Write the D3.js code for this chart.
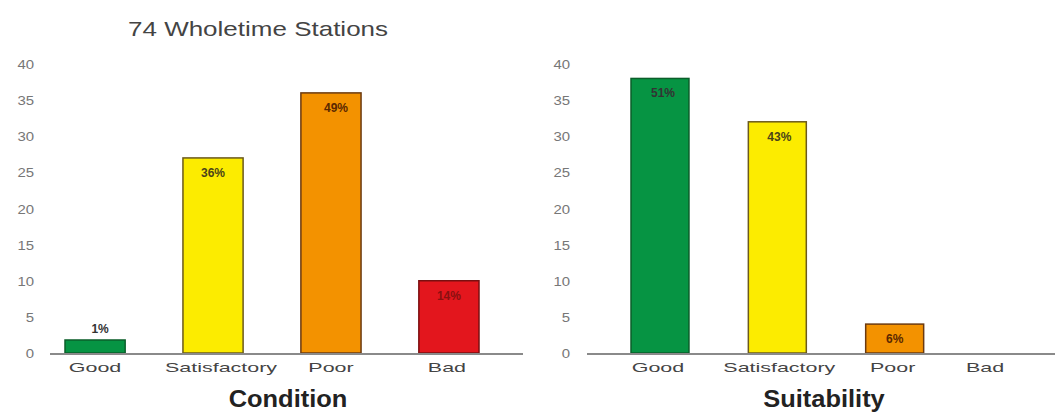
<!DOCTYPE html>
<html>
<head>
<meta charset="utf-8">
<script src="https://cdn.jsdelivr.net/npm/d3@7"></script>
<style>
  body { margin: 0; background: #fff; }
  text { font-family: "Liberation Sans", Arial, sans-serif; }
</style>
</head>
<body>
<div id="vis"></div>
<script>
// data
const categories = ["Good", "Satisfactory", "Poor", "Bad"]
const conditionValues = [1.8, 27, 36, 10]
const conditionLabels = ["1%", "36%", "49%", "14%"]
const suitabilityValues = [38, 32, 4, 0]
const suitabilityLabels = ["51%", "43%", "6%", ""]
const yTicks = [0, 5, 10, 15, 20, 25, 30, 35, 40]

const barColors = ["#069443", "#fcec00", "#f39200", "#e3161d"]
const barStrokes = ["#0b5e2a", "#6b5a1c", "#6b3a10", "#7a0f10"]
const labelColors = ["#333", "#4a4418", "#5a2800", "#8a1010"]

const width = 1055, height = 412

const svg = d3.select("#vis").append("svg")
    .attr("width", width)
    .attr("height", height)

// the original texts are all drawn horizontally stretched
svg.append("text")
    .attr("transform", "translate(128,36) scale(1.3,1)")
    .attr("font-size", 20)
    .attr("fill", "#444")
    .text("74 Wholetime Stations")

const y = d3.scaleLinear().domain([0, 40]).range([353, 64])

function drawChart(opts){
    const g = svg.append("g")

    const x = d3.scaleBand()
        .domain(categories)
        .range(opts.xRange)
        .paddingInner(opts.pad)
        .paddingOuter(0)

    // y tick labels, no axis line
    g.selectAll(".ytick")
        .data(yTicks)
        .enter().append("text")
        .attr("transform", d => `translate(${opts.tickX},${y(d) + 5}) scale(1.15,1)`)
        .attr("text-anchor", "end")
        .attr("font-size", 13)
        .attr("fill", "#777")
        .text(d => d)

    g.selectAll("rect")
        .data(opts.values)
        .enter().append("rect")
        .attr("x", (d, i) => x(categories[i]))
        .attr("y", d => y(d))
        .attr("width", x.bandwidth())
        .attr("height", d => y(0) - y(d))
        .attr("fill", (d, i) => barColors[i])
        .attr("stroke", (d, i) => barStrokes[i])
        .attr("stroke-width", 1.5)
        .style("display", d => d > 0 ? null : "none")

    g.append("line")
        .attr("x1", opts.baseline[0]).attr("x2", opts.baseline[1])
        .attr("y1", y(0) + 1).attr("y2", y(0) + 1)
        .attr("stroke", "#8a8a8a")
        .attr("stroke-width", 2)

    // percent labels
    g.selectAll(".pct")
        .data(opts.labels)
        .enter().append("text")
        .attr("x", (d, i) => x(categories[i]) + x.bandwidth() / 2 + (opts.labelDx[i] || 0))
        .attr("y", (d, i) => i == 0 && opts.above ? y(opts.values[i]) - 7 : y(opts.values[i]) + 19)
        .attr("text-anchor", "middle")
        .attr("font-size", 12)
        .attr("font-weight", "bold")
        .attr("fill", (d, i) => labelColors[i])
        .text(d => d)

    // category labels
    g.selectAll(".cat")
        .data(categories)
        .enter().append("text")
        .attr("transform", (d, i) => `translate(${x(d) + x.bandwidth() / 2 + (opts.catDx[i] || 0)},${y(0) + 19}) scale(1.65,1)`)
        .attr("text-anchor", "middle")
        .attr("font-size", 13)
        .attr("fill", "#444")
        .text(d => d)

    g.append("text")
        .attr("transform", `translate(${opts.titleX},407) scale(1.06,1)`)
        .attr("text-anchor", "middle")
        .attr("font-size", 24)
        .attr("font-weight", "bold")
        .attr("fill", "#222")
        .text(opts.title)
}

drawChart({
    values: conditionValues,
    labels: conditionLabels,
    title: "Condition",
    titleX: 288,
    xRange: [65, 479],
    pad: 0.49,
    tickX: 34,
    baseline: [50, 523],
    labelDx: [5, 0, 5, 0],
    catDx: [0, 8, 0, -2],
    above: true
})

drawChart({
    values: suitabilityValues,
    labels: suitabilityLabels,
    title: "Suitability",
    titleX: 824,
    xRange: [631, 1041],
    pad: 0.506,
    tickX: 570,
    baseline: [587, 1055],
    labelDx: [3, 2, 0, 0],
    catDx: [-2, 2, -2, -27],
    above: false
})
</script>
</body>
</html>
